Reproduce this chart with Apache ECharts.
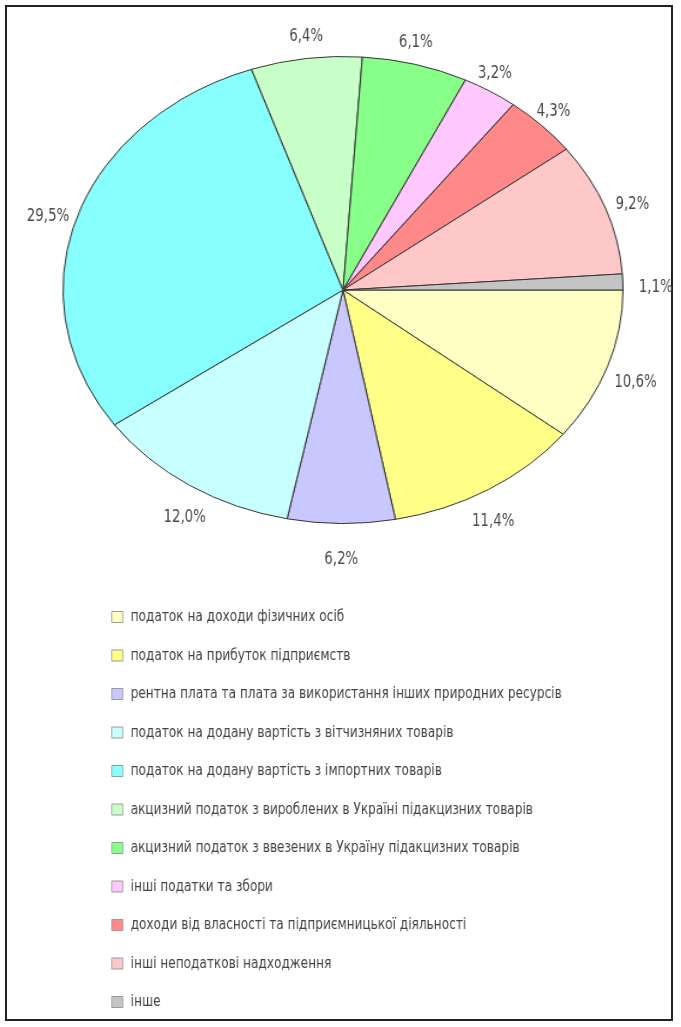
<!DOCTYPE html>
<html><head><meta charset="utf-8">
<script src="https://cdn.jsdelivr.net/npm/echarts@6/dist/echarts.min.js"></script>
<style>
html,body{margin:0;padding:0;background:#fff;width:681px;height:1027px;overflow:hidden;}
#frame{position:absolute;left:5px;top:5px;width:668px;height:1016px;border:2px solid #222;box-sizing:border-box;}
#pie{position:absolute;left:103px;top:49.5px;width:480px;height:480px;transform:scaleX(1.1991);transform-origin:50% 50%;}
#over{position:absolute;left:0;top:0;width:783px;height:1027px;transform:scaleX(0.87);transform-origin:0 0;}
</style></head><body>
<div id="frame"></div><div id="pie"></div><div id="over"></div>
<script>
const categories = [
  'податок на доходи фізичних осіб',
  'податок на прибуток підприємств',
  'рентна плата та плата за використання інших природних ресурсів',
  'податок на додану вартість з вітчизняних товарів',
  'податок на додану вартість з імпортних товарів',
  'акцизний податок з вироблених в Україні підакцизних товарів',
  'акцизний податок з ввезених в Україну підакцизних товарів',
  'інші податки та збори',
  'доходи від власності та підприємницької діяльності',
  'інші неподаткові надходження',
  'інше'
];
const values = [10.6, 11.4, 6.2, 12.0, 29.5, 6.4, 6.1, 3.2, 4.3, 9.2, 1.1];
const palette = ['#ffffc4','#ffff88','#c8c8ff','#c8ffff','#88ffff','#c8ffc8','#88ff88','#ffc8ff','#ff8888','#ffc8c8','#c4c4c4'];

const FONT = "'DejaVu Sans Condensed','Liberation Sans',sans-serif";
const fmt = v => v.toFixed(1).replace('.', ',') + '%';

// Elliptical pie: circular ECharts pie stretched horizontally
const pie = echarts.init(document.getElementById('pie'));
pie.setOption({
  animation: false,
  color: palette,
  series: [{
    type: 'pie', center: ['50%', '50%'], radius: 233.5,
    startAngle: 0, clockwise: true, silent: true,
    label: { show: false }, labelLine: { show: false },
    itemStyle: { borderColor: '#333', borderWidth: 1 },
    data: categories.map((n, i) => ({ name: n, value: values[i] }))
  }]
});

// Overlay (horizontally condensed text): labels + legend
const S = 0.87;
const cx = 343, cy = 289.5, rx = 280, ry = 233.5;
const total = values.reduce((a, b) => a + b, 0);
const mids = []; let acc = 0;
values.forEach(v => { mids.push((acc + v / 2) / total * 2 * Math.PI); acc += v; });

const over = echarts.init(document.getElementById('over'));
over.setOption({
  animation: false,
  color: palette,
  legend: {
    orient: 'vertical', left: 107 / S, top: 603,
    itemWidth: 11 / S, itemHeight: 11, itemGap: 20.5, icon: 'rect',
    selectedMode: false,
    itemStyle: { borderColor: '#999', borderWidth: 1 },
    textStyle: { fontFamily: FONT, fontSize: 15.5, color: '#444', lineHeight: 18, padding: [0, 0, 0, 4] },
    data: categories
  },
  series: [{
    type: 'pie', center: [cx / S, cy], radius: 0.5,
    startAngle: 0, clockwise: true, silent: true, avoidLabelOverlap: false,
    data: categories.map((n, i) => ({ name: n, value: values[i] })),
    label: {
      show: true, position: 'outside', fontFamily: FONT, fontSize: 17, color: '#4a4a4a',
      formatter: p => fmt(p.value)
    },
    labelLine: { show: false },
    labelLayout: p => {
      const c = Math.cos(mids[p.dataIndex]), s = Math.sin(mids[p.dataIndex]);
      return {
        x: (cx + rx * c + 33 * c * c * c) / S,
        y: cy + 7.5 + (ry + 29.5) * s,
        align: 'center', verticalAlign: 'middle'
      };
    }
  }]
});
</script>
</body></html>
